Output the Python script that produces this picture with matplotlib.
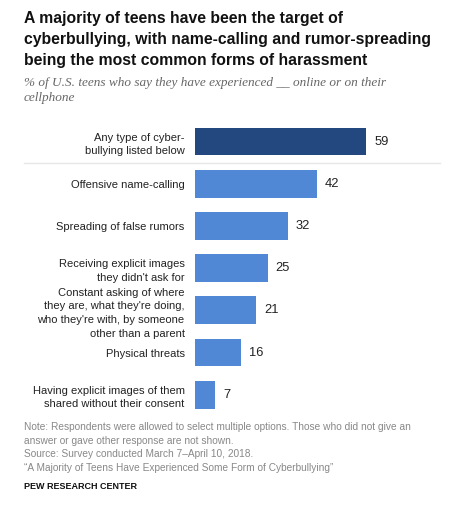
import matplotlib
matplotlib.use("Agg")
import matplotlib.pyplot as plt
from matplotlib.lines import Line2D

categories = [
    "Any type of cyber-\nbullying listed below",
    "Offensive name-calling",
    "Spreading of false rumors",
    "Receiving explicit images\nthey didn't ask for",
    "Constant asking of where\nthey are, what they're doing,\nwho they're with, by someone\nother than a parent",
    "Physical threats",
    "Having explicit images of them\nshared without their consent",
]
values = [59, 42, 32, 25, 21, 16, 7]

title = ("A majority of teens have been the target of\n"
         "cyberbullying, with name-calling and rumor-spreading\n"
         "being the most common forms of harassment")
subtitle = "% of U.S. teens who say they have experienced __ online or on their\ncellphone"
notes = ("Note: Respondents were allowed to select multiple options. Those who did not give an\n"
         "answer or gave other response are not shown.\n"
         "Source: Survey conducted March 7\u2013April 10, 2018.\n"
         "\u201cA Majority of Teens Have Experienced Some Form of Cyberbullying\u201d")
credit = "PEW RESEARCH CENTER"

W, H = 455, 505
DPI = 100
plt.rcParams['font.family'] = ['Liberation Sans', 'DejaVu Sans']
fig = plt.figure(figsize=(W / DPI, H / DPI), dpi=DPI)
fig.patch.set_facecolor("white")

def fx(px):
    return px / W

def fy(py):
    return 1 - py / H

ax_top, ax_bot = 120.4, 415.8
ax_left, ax_right = 195, 440
ax = fig.add_axes([fx(ax_left), fy(ax_bot), (ax_right - ax_left) / W, (ax_bot - ax_top) / H])
scale = 2.9
ax.set_xlim(0, (ax_right - ax_left) / scale)
ax.set_ylim(len(values) - 0.5, -0.5)

dark = "#22487f"
light = "#5088d5"
colors = [dark] + [light] * (len(values) - 1)
ypos = list(range(len(values)))
ax.barh(ypos, values, height=0.66, color=colors)
for y, v in zip(ypos, values):
    ax.text(v + 8 / scale, y, str(v), va="center", ha="left", fontsize=9.3, color="#222222")

ax.set_yticks(ypos)
ax.set_yticklabels(categories, fontsize=8, color="#222222", linespacing=1.45)
ax.tick_params(axis="y", length=0, pad=7.5)
ax.set_xticks([])
for s in ax.spines.values():
    s.set_visible(False)

# separator line
fig.add_artist(Line2D([fx(24), fx(440)], [fy(162.5), fy(162.5)], color="#e6e6e6", lw=1))

fig.text(fx(24), fy(11), title, ha="left", va="top", fontsize=11.3, fontweight="bold",
         color="#111111", linespacing=1.5)
fig.text(fx(24), fy(77), subtitle, ha="left", va="top", fontsize=9.5, style="italic",
         family=["Liberation Serif", "DejaVu Serif"], color="#666666", linespacing=1.35)
fig.text(fx(24), fy(422), notes, ha="left", va="top", fontsize=7.3, color="#888888",
         linespacing=1.45)
fig.text(fx(24), fy(482), credit, ha="left", va="top", fontsize=6.5, fontweight="bold",
         color="#111111")

fig.savefig("out.png", dpi=DPI, facecolor="white")
